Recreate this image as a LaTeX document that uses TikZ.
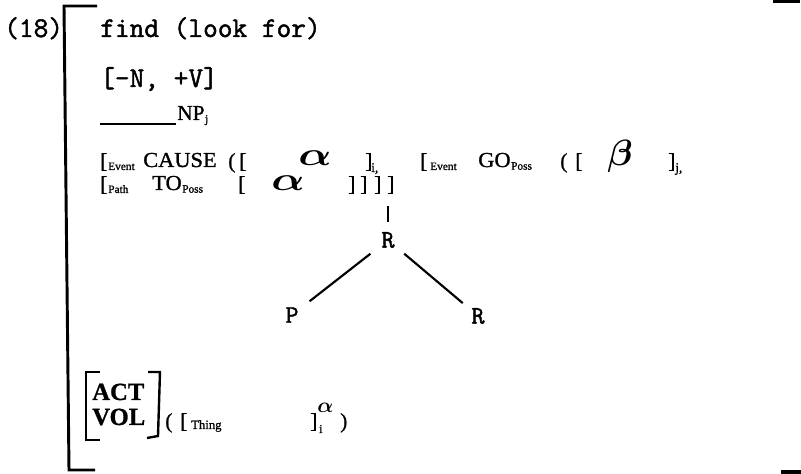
\documentclass[tikz,border=0pt]{standalone}
\usepackage{fontspec}
\usepackage{graphicx}
\setmainfont{Liberation Serif}[FakeBold=1]
\setmonofont{Latin Modern Mono}[FakeBold=1.6]
\newfontfamily\widerm{Liberation Serif}[FakeStretch=1.05,FakeBold=1.2]

\begin{document}
\begin{tikzpicture}[x=0.75pt,y=-0.75pt,
  mono/.style={font=\ttfamily\fontsize{21.4}{23}\selectfont,inner sep=0pt,anchor=base west},
  caps/.style={font=\widerm\fontsize{16}{18}\selectfont,inner sep=0pt,anchor=base west},
  subs/.style={font=\rmfamily\fontsize{8.5}{9}\selectfont,inner sep=0pt,anchor=base west},
  brk/.style={font=\rmfamily\fontsize{16}{18}\selectfont,inner sep=0pt,anchor=base west},
  feat/.style={font=\rmfamily\bfseries\fontsize{18.5}{20}\selectfont,inner sep=0pt,anchor=base west},
  leaf/.style={font=\ttfamily\fontsize{19}{20}\selectfont,inner sep=1pt},
  tree/.style={line width=1.6pt},
  rule/.style={line width=2.2pt}]
  \useasboundingbox (0,0) rectangle (801,474);
  % example number and head
  \node[mono] (num) at (4,37) {(18)};
  \node[mono] (find) at (100,37) {find (look for)};
  \node[mono] (cat) at (100,87) {[-N, +V]};
  \draw[line width=1pt] (100,124) -- (176,124);
  \node[font=\rmfamily\fontsize{16}{18}\selectfont,inner sep=0pt,anchor=base west] (np) at (177,120) {NP};
  \node[subs] (npj) at ([yshift=-2pt]np.base east) {j};
  % conceptual structure, first line
  \node[brk] (ob1) at (100,168) {[};
  \node[subs] (ev1) at (108,170) {Event};
  \node[caps] (cause) at (143,167) {CAUSE};
  \node[brk] (op1) at (228,168) {(};
  \node[brk] (ob2) at (239,168) {[};
  \node[inner sep=0pt,anchor=base west] (alpha1) at (298,166) {\resizebox{25pt}{11pt}{\boldmath$\alpha$}};
  \node[brk] (cb1) at (365,168) {]};
  \node[subs,font=\rmfamily\fontsize{10}{11}\selectfont] (sub1) at (371,172) {i,};
  \node[brk] (ob3) at (420,168) {[};
  \node[subs] (ev2) at (430,170) {Event};
  \node[caps] (go) at (478,167) {GO};
  \node[subs] (goposs) at ([yshift=-2pt]go.base east) {Poss};
  \node[brk] (op2) at (560,168) {(};
  \node[brk] (ob4) at (575,168) {[};
  \node[inner sep=0pt,anchor=base west] (beta) at (607,166) {\resizebox{19pt}{!}{\boldmath$\beta$}};
  \node[brk] (cb2) at (668,168) {]};
  \node[subs,font=\rmfamily\fontsize{10}{11}\selectfont] (sub2) at (675,172) {j,};
  % second line
  \node[brk] (ob5) at (100,191) {[};
  \node[subs] (path) at (108,193) {Path};
  \node[caps] (to) at (152,190) {TO};
  \node[subs] (toposs) at ([yshift=-2pt]to.base east) {Poss};
  \node[brk] (ob6) at (238,191) {[};
  \node[inner sep=0pt,anchor=base west] (alpha2) at (271,191) {\resizebox{25pt}{11pt}{\boldmath$\alpha$}};
  \node[brk] (cb3) at (348,191) {]};
  \node[brk] (cb4) at (360,191) {]};
  \node[brk] (cb5) at (374,191) {]};
  \node[brk] (cb6) at (387,191) {]};
  % tree
  \coordinate (tick) at (388,206);
  \node[leaf] (r1) at (388,240) {R};
  \node[leaf] (p) at (292,315) {P};
  \node[leaf] (r2) at (478,316) {R};
  \draw[tree] (tick) -- (388,222);
  \draw[tree,shorten <=9pt,shorten >=9pt] (r1) -- (p);
  \draw[tree,shorten <=8pt,shorten >=7pt] (r1) -- (r2);
  % bottom line
  \draw[line width=1.8pt] (100,372) -- (86,372) -- (86,440) -- (100,440);
  \draw[line width=1.8pt] (148,372) -- (160,372) -- (158,436) -- (147,438);
  \node[feat] (act) at (92,400) {ACT};
  \node[feat] (vol) at (92,425) {VOL};
  \node[brk] (op3) at (165,428) {(};
  \node[brk] (ob7) at (180,428) {[};
  \node[subs,font=\rmfamily\fontsize{9.5}{10}\selectfont] (thing) at (191,429) {Thing};
  \node[brk] (cb7) at (310,428) {]};
  \node[subs,font=\rmfamily\fontsize{9}{10}\selectfont] (subi) at (319,433) {i};
  \node[inner sep=0pt,anchor=base west] (alpha3) at (317,413) {\resizebox{12pt}{7pt}{\boldmath$\alpha$}};
  \node[brk] (cp3) at (340,428) {)};
  % outer bracket
  \draw[rule] (97,6) -- (64,6) -- (69,470) -- (95,470);
  \fill (773,0) rectangle (800,3);
  \fill (781,470) rectangle (801,474);
\end{tikzpicture}
\end{document}
